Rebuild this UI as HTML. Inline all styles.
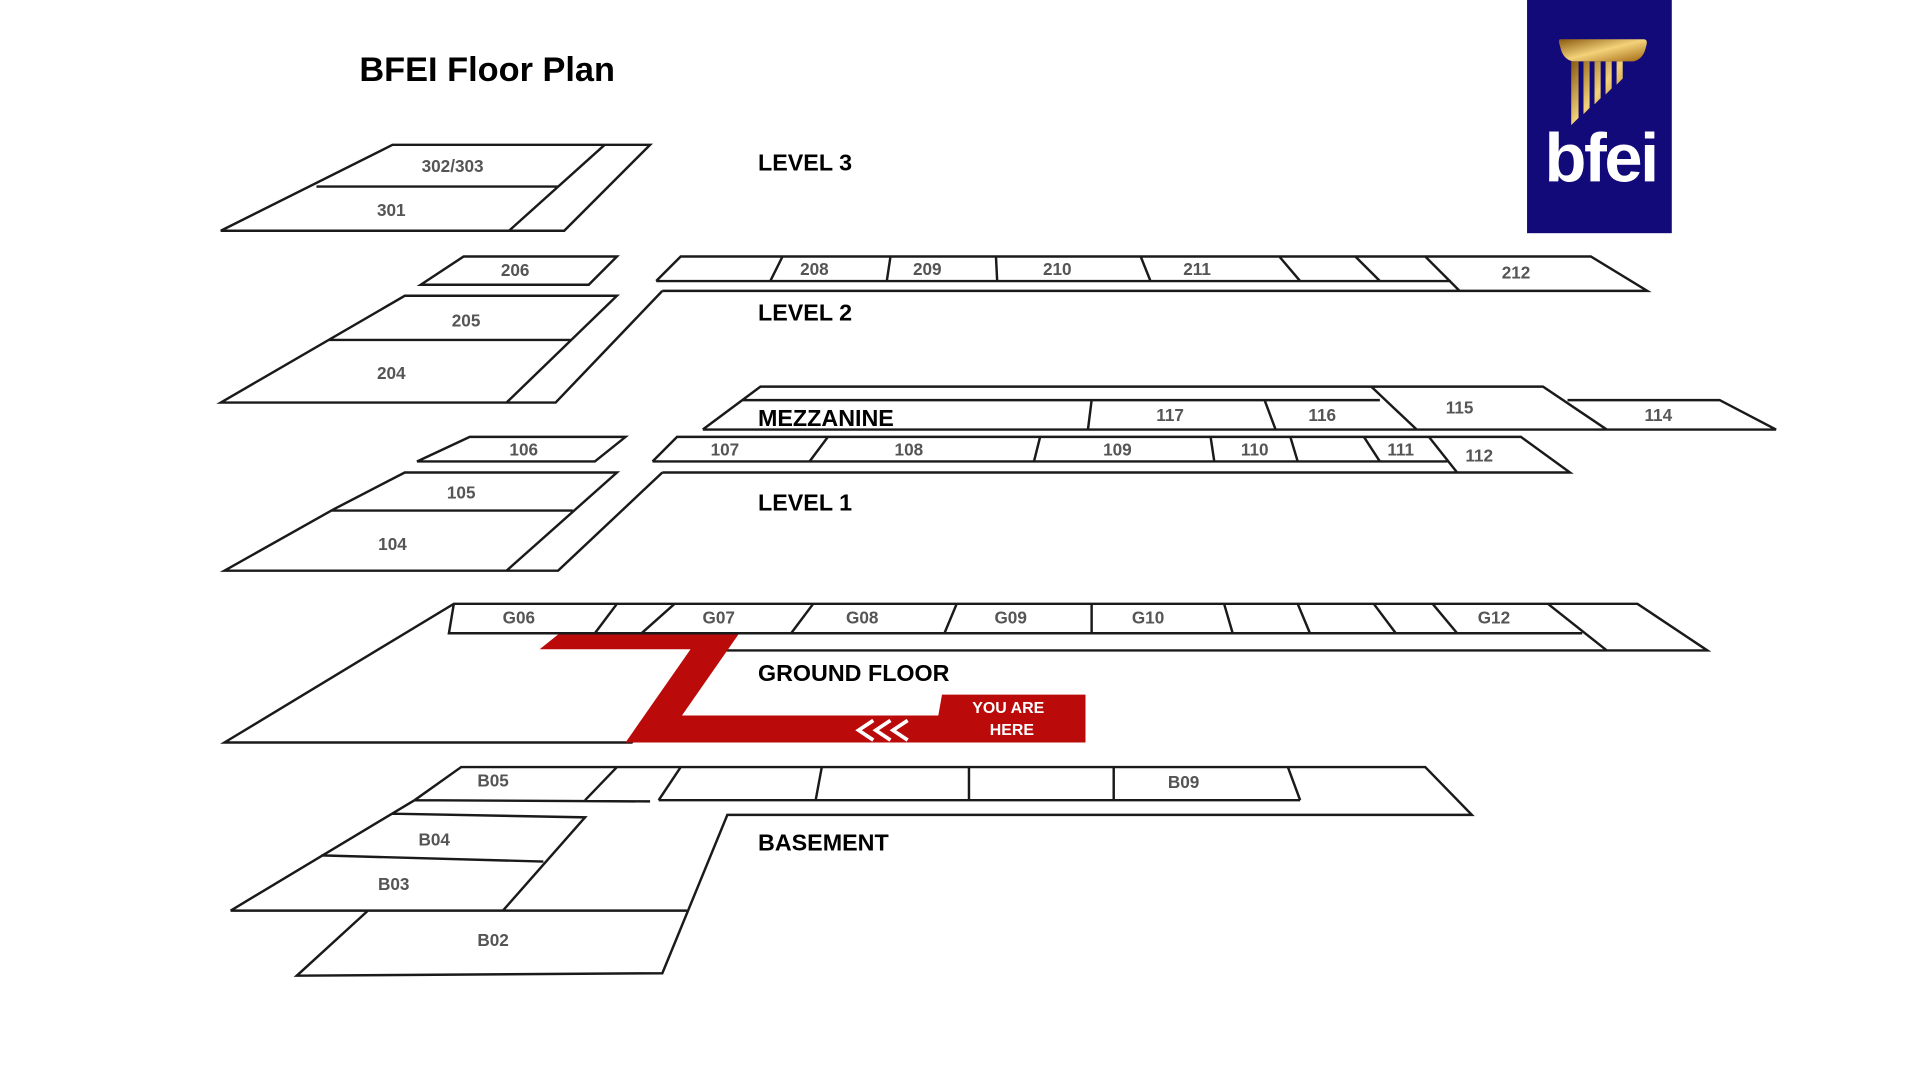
<!DOCTYPE html>
<html><head><meta charset="utf-8"><style>
html,body{margin:0;padding:0;background:#fff;}
svg{display:block;}
.l{fill:none;stroke:#1a1a1a;stroke-width:2;stroke-linejoin:miter;}
.t{font-family:"Liberation Sans",sans-serif;font-weight:bold;font-size:14px;fill:#555;text-anchor:middle;}
.h{font-family:"Liberation Sans",sans-serif;font-weight:bold;font-size:19px;fill:#000;}
</style></head><body>
<svg width="1922" height="1080" viewBox="0 0 1567 880" preserveAspectRatio="none" xmlns="http://www.w3.org/2000/svg">
<rect width="1567" height="880" fill="#fff"/>
<text x="293" y="66" class="h" style="font-size:28px">BFEI Floor Plan</text>
<!-- logo -->
<rect x="1245" y="0" width="118" height="190" fill="#120a78"/>
<defs><linearGradient id="g" x1="0" y1="0" x2="1" y2="1"><stop offset="0" stop-color="#8a5a10"/><stop offset=".5" stop-color="#f3d27a"/><stop offset="1" stop-color="#a0660e"/></linearGradient></defs>
<path d="M1272,32 h68 q4,0 2,6 q-2,10 -10,12 h-50 q-8,-2 -10,-12 q-2,-6 0,-6z" fill="url(#g)"/>
<path d="M1281,50 h6 v46 l-6,6z M1291,50 h5 v38 l-5,5z M1300,50 h5 v30 l-5,5z M1309,50 h5 v22 l-5,5z M1318,50 h5 v14 l-5,5z" fill="url(#g)"/>
<text x="1305" y="148" style="font-family:'Liberation Sans',sans-serif;font-size:56px;fill:#fff;font-weight:bold;text-anchor:middle;letter-spacing:-2px">bfei</text>
<!-- level 3 -->
<path class="l" d="M180,188 L320,118 L530,118 L460,188 Z M258,152 L455,152 M415,188 L493,118"/>
<text x="369" y="140" class="t">302/303</text><text x="319" y="176" class="t">301</text>
<text x="618" y="139" class="h">LEVEL 3</text>
<!-- level 2 -->
<path class="l" d="M343,232 L378,209 L503,209 L480,232 Z M535,229 L555,209 L1297,209 L1343,237 L540,237 M535,229 L1183,229 M638,209 L628,229 M726,209 L723,229 M812,209 L813,229 M930,209 L938,229 M1043,209 L1060,229 M1105,209 L1125,229 M1162,209 L1190,237 M180,328 L330,241 L503,241 L413,328 Z M268,277 L465,277 M413,328 L453,328 L540,237"/>
<text x="420" y="225" class="t">206</text><text x="664" y="224" class="t">208</text><text x="756" y="224" class="t">209</text><text x="862" y="224" class="t">210</text><text x="976" y="224" class="t">211</text><text x="1236" y="227" class="t">212</text>
<text x="380" y="266" class="t">205</text><text x="319" y="309" class="t">204</text>
<text x="618" y="261" class="h">LEVEL 2</text>
<!-- mezzanine -->
<path class="l" d="M573,350 L620,315 L1258,315 L1310,350 M605,326 L1125,326 M573,350 L1448,350 L1402,326 L1278,326 M890,326 L887,350 M1031,326 L1040,350 M1118,315 L1155,350"/>
<text x="954" y="343" class="t">117</text><text x="1078" y="343" class="t">116</text><text x="1190" y="337" class="t">115</text><text x="1352" y="343" class="t">114</text>
<text x="618" y="347" class="h">MEZZANINE</text>
<!-- level 1 -->
<path class="l" d="M340,376 L383,356 L510,356 L485,376 Z M532,376 L552,356 L1240,356 L1280,385 L540,385 M532,376 L1180,376 M675,356 L660,376 M848,356 L843,376 M987,356 L990,376 M1052,356 L1058,376 M1112,356 L1125,376 M1165,356 L1188,385 M183,465 L272,415 L330,385 L503,385 L413,465 Z M270,416 L467,416 M413,465 L455,465 L540,385"/>
<text x="427" y="371" class="t">106</text><text x="591" y="371" class="t">107</text><text x="741" y="371" class="t">108</text><text x="911" y="371" class="t">109</text><text x="1023" y="371" class="t">110</text><text x="1142" y="371" class="t">111</text><text x="1206" y="376" class="t">112</text>
<text x="376" y="406" class="t">105</text><text x="320" y="448" class="t">104</text>
<text x="618" y="416" class="h">LEVEL 1</text>
<!-- ground -->
<path class="l" d="M183,605 L370,492 L1335,492 L1392,530 L590,530 L515,605 Z M370,492 L366,516 L1290,516 M503,492 L485,516 M550,492 L523,516 M663,492 L645,516 M780,492 L770,516 M890,492 L890,516 M998,492 L1005,516 M1058,492 L1068,516 M1120,492 L1138,516 M1168,492 L1188,516 M1262,492 L1310,530"/>
<text x="423" y="508" class="t">G06</text><text x="586" y="508" class="t">G07</text><text x="703" y="508" class="t">G08</text><text x="824" y="508" class="t">G09</text><text x="936" y="508" class="t">G10</text><text x="1218" y="508" class="t">G12</text>
<polygon points="455,517 602,517 556,583 765,583 768,566 885,566 885,605 510,605 563,529 440,529" fill="#bb0a0a"/>
<path d="M712,587 L700,595 L712,603 M726,587 L714,595 L726,603 M740,587 L728,595 L740,603" fill="none" stroke="#fff" stroke-width="3"/>
<text x="822" y="581" style="font-family:'Liberation Sans',sans-serif;font-weight:bold;font-size:13px;fill:#fff;text-anchor:middle">YOU ARE</text>
<text x="825" y="599" style="font-family:'Liberation Sans',sans-serif;font-weight:bold;font-size:13px;fill:#fff;text-anchor:middle">HERE</text>
<text x="618" y="555" class="h">GROUND FLOOR</text>
<!-- basement -->
<path class="l" d="M188,742 L338,652 L376,625 L1162,625 L1200,664 L593,664 L540,793 L242,795 L300,742 M338,652 L530,653 M537,652 L1060,652 M503,625 L477,652 M555,625 L537,652 M670,625 L665,652 M790,625 L790,652 M908,625 L908,652 M1050,625 L1060,652 M320,663 L477,666 L410,742 M262,697 L443,702 M188,742 L560,742"/>
<text x="402" y="641" class="t">B05</text><text x="965" y="642" class="t">B09</text><text x="354" y="689" class="t">B04</text><text x="321" y="725" class="t">B03</text><text x="402" y="771" class="t">B02</text>
<text x="618" y="693" class="h">BASEMENT</text>
</svg>
</body></html>
